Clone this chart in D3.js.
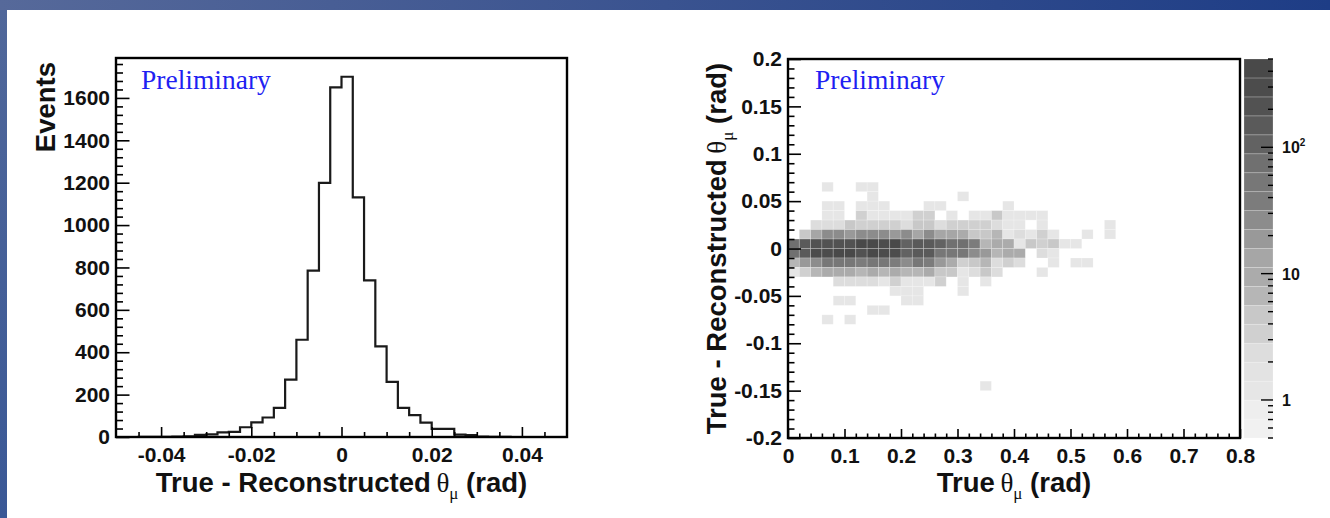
<!DOCTYPE html>
<html>
<head>
<meta charset="utf-8">
<script src="https://cdnjs.cloudflare.com/ajax/libs/d3/7.8.5/d3.min.js"></script>
<style>
  html, body { margin: 0; padding: 0; background: #fff; }
  svg { display: block; }
</style>
</head>
<body>
<svg id="chart" width="1330" height="518"></svg>
<script>
// Two ROOT-style panels: 1D residual histogram (left) and 2D residual vs true angle (right, log colz)

// ---------- data ----------
const histLo = -0.05, histBinW = 0.0025;
const histCounts = [0, 0, 1, 1, 1, 2, 3, 10, 12, 22, 24, 46, 69, 92, 137, 271, 459, 785, 1199, 1650,
                    1700, 1131, 739, 428, 260, 137, 103, 68, 38, 38, 11, 9, 2, 1, 1, 0, 0, 0, 0, 0];
const histXTicks = [-0.04, -0.02, 0, 0.02, 0.04];
const histYTicks = [0, 200, 400, 600, 800, 1000, 1200, 1400, 1600];

const thetaBinW = 0.02, residBinH = 0.01;
// lower edge of each residual row, and counts per true-theta column starting at 0
const residRowLo = [0.06, 0.05, 0.04, 0.03, 0.02, 0.01, 0, -0.01, -0.02, -0.03, -0.04, -0.05, -0.06, -0.07, -0.08, -0.15];
const cellCounts = [
  [0, 0, 0, 1, 0, 0, 1, 1],
  [0, 0, 0, 0, 0, 0, 0, 1, 0, 0, 0, 0, 0, 0, 0, 1],
  [0, 0, 0, 1, 1, 0, 1, 1, 1, 0, 0, 0, 1, 1, 0, 0, 0, 0, 0, 1],
  [0, 0, 0, 1, 1, 0, 3, 1, 1, 1, 1, 3, 3, 0, 1, 0, 1, 1, 4, 1, 1, 1, 1],
  [0, 0, 2, 2, 2, 4, 3, 3, 3, 3, 2, 4, 4, 2, 3, 3, 3, 3, 2, 1, 1, 0, 1, 0, 0, 0, 0, 0, 1],
  [0, 5, 12, 25, 26, 22, 25, 27, 25, 22, 28, 12, 28, 12, 12, 8, 5, 5, 6, 1, 2, 1, 3, 1, 0, 0, 1, 0, 1],
  [85, 150, 250, 240, 200, 240, 380, 400, 300, 380, 110, 150, 140, 95, 75, 72, 35, 7, 10, 8, 1, 5, 3, 4, 1, 1],
  [75, 130, 260, 350, 480, 380, 240, 380, 350, 260, 95, 140, 130, 55, 50, 55, 25, 18, 7, 8, 10, 0, 2, 1],
  [6, 17, 25, 45, 45, 45, 42, 45, 45, 42, 28, 45, 40, 17, 11, 3, 4, 7, 2, 3, 2, 0, 0, 1, 0, 1, 1],
  [1, 3, 7, 10, 8, 10, 7, 10, 7, 10, 7, 6, 8, 4, 4, 1, 2, 4, 2, 0, 0, 0, 1],
  [0, 0, 0, 0, 2, 2, 2, 2, 1, 3, 1, 1, 1, 3, 0, 1, 0, 1],
  [0, 0, 0, 0, 0, 0, 0, 0, 0, 1, 1, 1, 0, 0, 0, 1],
  [0, 0, 0, 0, 1, 1, 0, 0, 0, 0, 1, 1],
  [0, 0, 0, 0, 0, 0, 0, 1, 1],
  [0, 0, 0, 1, 0, 1],
  [0, 0, 0, 0, 0, 0, 0, 0, 0, 0, 0, 0, 0, 0, 0, 0, 0, 1],
];
const mapXTicks = [0, 0.1, 0.2, 0.3, 0.4, 0.5, 0.6, 0.7, 0.8];
const mapYTicks = [-0.2, -0.15, -0.1, -0.05, 0, 0.05, 0.1, 0.15, 0.2];
const zMin = 0.5, zMax = 500;
const zLabels = [{ v: 1, base: "1" }, { v: 10, base: "10" }, { v: 100, base: "10", sup: "2" }];

// 20 contour bands, light -> dark
const grayLevels = ["#f1f1f1", "#eeeeee", "#e6e6e6", "#e3e3e3", "#dddddd", "#d0d0d0", "#c8c8c8", "#b6b6b6",
  "#ababab", "#a6a6a6", "#999999", "#8c8c8c", "#7c7c7c", "#777777", "#707070", "#626262",
  "#5a5a5a", "#525252", "#4c4c4c", "#494949"];

const SANS = "'Liberation Sans', Arial, Helvetica, sans-serif";
const SERIF = "'Liberation Serif', 'Times New Roman', serif";
const BLUE = "#1f1ff2";
const TICK_FONT = `bold 21px ${SANS}`, TITLE_FONT = `bold 27.5px ${SANS}`;

const svg = d3.select("#chart");

// ---------- slide background ----------
const defs = svg.append("defs");
const topGrad = defs.append("linearGradient").attr("id", "topBar");
topGrad.append("stop").attr("offset", "0%").attr("stop-color", "#56699a");
topGrad.append("stop").attr("offset", "100%").attr("stop-color", "#1e3d86");
const sideGrad = defs.append("linearGradient").attr("id", "sideBar").attr("x2", 0).attr("y2", 1);
sideGrad.append("stop").attr("offset", "0%").attr("stop-color", "#50679a");
sideGrad.append("stop").attr("offset", "100%").attr("stop-color", "#3a5896");
svg.append("rect").attr("width", 1330).attr("height", 518).attr("fill", "#fff");
svg.append("rect").attr("width", 1330).attr("height", 10).attr("fill", "url(#topBar)");
svg.append("rect").attr("y", 10).attr("width", 7).attr("height", 508).attr("fill", "url(#sideBar)");

// ---------- helpers ----------
function fmtNum(d) { return String(+d.toFixed(3)); }

function axis(g, gen, vals, size, pad, fmt) {
  g.call(gen.tickValues(vals).tickSize(size).tickPadding(pad).tickFormat(fmt || (() => "")));
  g.select(".domain").remove();
  g.selectAll(".tick line").attr("stroke", "#000").attr("stroke-width", 1.6);
  g.selectAll(".tick text").attr("fill", "#111").style("font", TICK_FONT);
}

function thetaTitle(t, pre) {
  t.append("tspan").text(pre);
  t.append("tspan").style("font", `27px ${SERIF}`).text("θ");
  t.append("tspan").style("font", `17px ${SERIF}`).attr("dy", 7).text("μ");
  t.append("tspan").attr("dy", -7).text(" (rad)");
}

function preliminary(x) {
  svg.append("text").attr("x", x).attr("y", 89).attr("fill", BLUE)
    .style("font", `27.5px ${SERIF}`).text("Preliminary");
}

// ---------- left: 1D histogram ----------
const xL = d3.scaleLinear([-0.05, 0.05], [116, 567]);
const yL = d3.scaleLinear([0, d3.max(histCounts) * 1.052], [437, 58]);

const pts = [[histLo, 0]];
histCounts.forEach((c, i) => {
  pts.push([histLo + i * histBinW, c], [histLo + (i + 1) * histBinW, c]);
});
pts.push([histLo + histCounts.length * histBinW, 0]);
svg.append("path")
  .attr("d", d3.line().x(d => xL(d[0])).y(d => yL(d[1]))(pts))
  .attr("fill", "none").attr("stroke", "#1a1a1a").attr("stroke-width", 2.2);

axis(svg.append("g").attr("transform", "translate(0,437)"), d3.axisBottom(xL),
  d3.range(-0.045, 0.05, 0.005).filter(v => !histXTicks.some(t => Math.abs(t - v) < 1e-6)), -5, 0);
axis(svg.append("g").attr("transform", "translate(0,437)"), d3.axisBottom(xL), histXTicks, -10, 10,
  d => d === 0 ? "0" : fmtNum(d));
axis(svg.append("g").attr("transform", "translate(116,0)"), d3.axisLeft(yL),
  d3.range(40, yL.domain()[1], 40).filter(v => v % 200 !== 0), -7, 0);
axis(svg.append("g").attr("transform", "translate(116,0)"), d3.axisLeft(yL), histYTicks, -13.5, 6, d => String(d));

svg.append("rect").attr("x", 116).attr("y", 58).attr("width", 451).attr("height", 379)
  .attr("fill", "none").attr("stroke", "#000").attr("stroke-width", 2.4);

preliminary(141);

svg.append("text").attr("transform", "translate(55,62) rotate(-90)").attr("text-anchor", "end")
  .style("font", TITLE_FONT).attr("fill", "#111").text("Events");

thetaTitle(svg.append("text").attr("x", 341.5).attr("y", 492).attr("text-anchor", "middle")
  .style("font", TITLE_FONT).attr("fill", "#111"), "True - Reconstructed\u2009");

// ---------- right: 2D colz ----------
const xR = d3.scaleLinear([0, 0.8], [788, 1240]);
const yR = d3.scaleLinear([-0.2, 0.2], [438, 59]);
const zR = d3.scaleLog([zMin, zMax], [438, 59]);
const nBands = grayLevels.length;
function bandOf(v) {
  const k = Math.floor(Math.log(v / zMin) / Math.log(zMax / zMin) * nBands + 1e-9);
  return Math.max(0, Math.min(nBands - 1, k));
}

const cells = [];
residRowLo.forEach((lo, r) => {
  cellCounts[r].forEach((n, i) => { if (n > 0) cells.push({ x: i * thetaBinW, y: lo, n }); });
});
svg.append("g").selectAll("rect").data(cells).join("rect")
  .attr("x", d => xR(d.x))
  .attr("y", d => yR(d.y + residBinH))
  .attr("width", d => xR(d.x + thetaBinW) - xR(d.x))
  .attr("height", d => yR(d.y) - yR(d.y + residBinH))
  .attr("fill", d => grayLevels[bandOf(d.n)])
  .attr("stroke", "#fff").attr("stroke-opacity", 0.25).attr("stroke-width", 0.8);

axis(svg.append("g").attr("transform", "translate(0,438)"), d3.axisBottom(xR),
  d3.range(0.02, 0.8, 0.02).filter(v => Math.abs(v * 10 - Math.round(v * 10)) > 1e-6), -4.5, 0);
axis(svg.append("g").attr("transform", "translate(0,438)"), d3.axisBottom(xR), mapXTicks, -9, 10, fmtNum);
axis(svg.append("g").attr("transform", "translate(788,0)"), d3.axisLeft(yR),
  d3.range(-0.19, 0.2, 0.01).filter(v => Math.abs(v * 20 - Math.round(v * 20)) > 1e-6), -6.5, 0);
axis(svg.append("g").attr("transform", "translate(788,0)"), d3.axisLeft(yR), mapYTicks, -13, 6,
  d => Math.abs(d) < 1e-9 ? "0" : fmtNum(d));

svg.append("rect").attr("x", 788).attr("y", 59).attr("width", 452).attr("height", 379)
  .attr("fill", "none").attr("stroke", "#000").attr("stroke-width", 2.4);

preliminary(815);

thetaTitle(svg.append("text").attr("transform", "translate(726,248.5) rotate(-90)").attr("text-anchor", "middle")
  .style("font", TITLE_FONT).attr("fill", "#111"), "True - Reconstructed\u2009");
thetaTitle(svg.append("text").attr("x", 1014).attr("y", 492).attr("text-anchor", "middle")
  .style("font", TITLE_FONT).attr("fill", "#111"), "True\u2009");

// ---------- palette ----------
const barX = 1244, barW = 29;
const bandEdges = d3.range(nBands + 1).map(k => zMin * Math.pow(zMax / zMin, k / nBands));
svg.append("g").selectAll("rect").data(grayLevels).join("rect")
  .attr("x", barX).attr("width", barW)
  .attr("y", (c, k) => zR(bandEdges[k + 1]))
  .attr("height", (c, k) => zR(bandEdges[k]) - zR(bandEdges[k + 1]))
  .attr("fill", c => c)
  .attr("stroke", "#fff").attr("stroke-opacity", 0.25).attr("stroke-width", 0.8);

svg.append("g").selectAll("line").data(zR.ticks()).join("line")
  .attr("x1", d => barX + barW - (Number.isInteger(Math.log10(d)) ? 12 : 5))
  .attr("x2", barX + barW)
  .attr("y1", d => zR(d)).attr("y2", d => zR(d))
  .attr("stroke", "#000").attr("stroke-width", 1.4);

zLabels.forEach(l => {
  const t = svg.append("text").attr("x", 1282).attr("y", zR(l.v) + 6)
    .style("font", `bold 16px ${SANS}`).attr("fill", "#111");
  t.append("tspan").text(l.base);
  if (l.sup) t.append("tspan").attr("dy", -7).style("font-size", "10px").text(l.sup);
});
</script>
</body>
</html>
